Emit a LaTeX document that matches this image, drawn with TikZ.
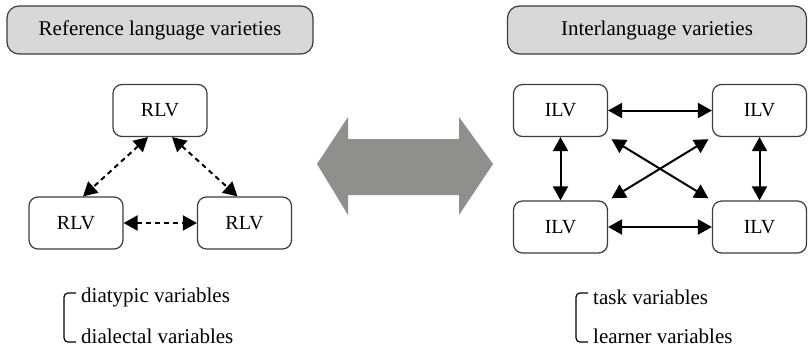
\documentclass[tikz,border=0pt]{standalone}
\usepackage{fontspec}
\setmainfont{Liberation Serif}
\usepackage{tikz}
\usetikzlibrary{arrows.meta}

\definecolor{headgray}{RGB}{216,216,216}
\definecolor{arrowgray}{RGB}{142,144,140}
\definecolor{linegray}{RGB}{60,60,60}

\tikzset{
  header/.style={draw=linegray,line width=1.2pt,fill=headgray,rounded corners=12pt,minimum height=48pt,font=\fontsize{21}{24}\selectfont},
  variety/.style={draw=linegray,line width=1.2pt,rounded corners=9pt,minimum width=94pt,minimum height=52pt,font=\fontsize{20}{23}\selectfont},
  label/.style={anchor=west,inner sep=0pt,font=\fontsize{21}{24}\selectfont},
  link/.style={line width=2pt,{Triangle[length=14pt,width=15pt]}-{Triangle[length=14pt,width=15pt]}},
  dlink/.style={link,dash pattern=on 5pt off 4pt}
}

\begin{document}
\begin{tikzpicture}[x=1pt,y=-1pt]
          \useasboundingbox (0,0) rectangle (808,349);
          \node[header,minimum width=306pt] (refhead) at (160,30) {Reference language varieties};
          \node[header,minimum width=299pt] (interhead) at (657,30) {Interlanguage varieties};
          % reference varieties
          \node[variety] (rlvT) at (160,110.5) {RLV};
          \node[variety] (rlvL) at (76,223) {RLV};
          \node[variety] (rlvR) at (244.5,223) {RLV};
          \draw[dlink] ([xshift=-12pt]rlvT.south) -- ([xshift=7pt]rlvL.north);
          \draw[dlink] ([xshift=12pt]rlvT.south) -- ([xshift=-7pt]rlvR.north);
          \draw[dlink] (rlvL.east) -- (rlvR.west);
          % interlanguage varieties
          \node[variety] (ilvTL) at (560.5,110.5) {ILV};
          \node[variety] (ilvTR) at (759.5,110.5) {ILV};
          \node[variety] (ilvBL) at (560.5,227) {ILV};
          \node[variety] (ilvBR) at (759.5,227) {ILV};
          \draw[link] (ilvTL.east) -- (ilvTR.west);
          \draw[link] (ilvBL.east) -- (ilvBR.west);
          \draw[link] (ilvTL.south) -- (ilvBL.north);
          \draw[link] (ilvTR.south) -- (ilvBR.north);
          \draw[link,shorten <=4pt,shorten >=4pt] (ilvTL.south east) -- (ilvBR.north west);
          \draw[link,shorten <=4pt,shorten >=4pt] (ilvTR.south west) -- (ilvBL.north east);
          % big arrow
          \fill[arrowgray] (317,164) -- (348,117) -- (348,139) -- (459,139) -- (459,117) -- (493,164)
            -- (459,215) -- (459,195) -- (348,195) -- (348,215) -- cycle;
          % variables
          \node[label] (diatypic) at (81,297) {diatypic variables};
          \node[label] (dialectal) at (81,336) {dialectal variables};
          \node[label] (task) at (593,297) {task variables};
          \node[label] (learner) at (593,336) {learner variables};
          \draw[line width=1.2pt,rounded corners=4pt] ([xshift=-5pt,yshift=4pt]diatypic.west) -| ([xshift=-17pt,yshift=-6pt]dialectal.west) -- ([xshift=-5pt,yshift=-6pt]dialectal.west);
          \draw[line width=1.2pt,rounded corners=4pt] ([xshift=-5pt,yshift=4pt]task.west) -| ([xshift=-17pt,yshift=-6pt]learner.west) -- ([xshift=-5pt,yshift=-6pt]learner.west);
        \end{tikzpicture}
\end{document}
